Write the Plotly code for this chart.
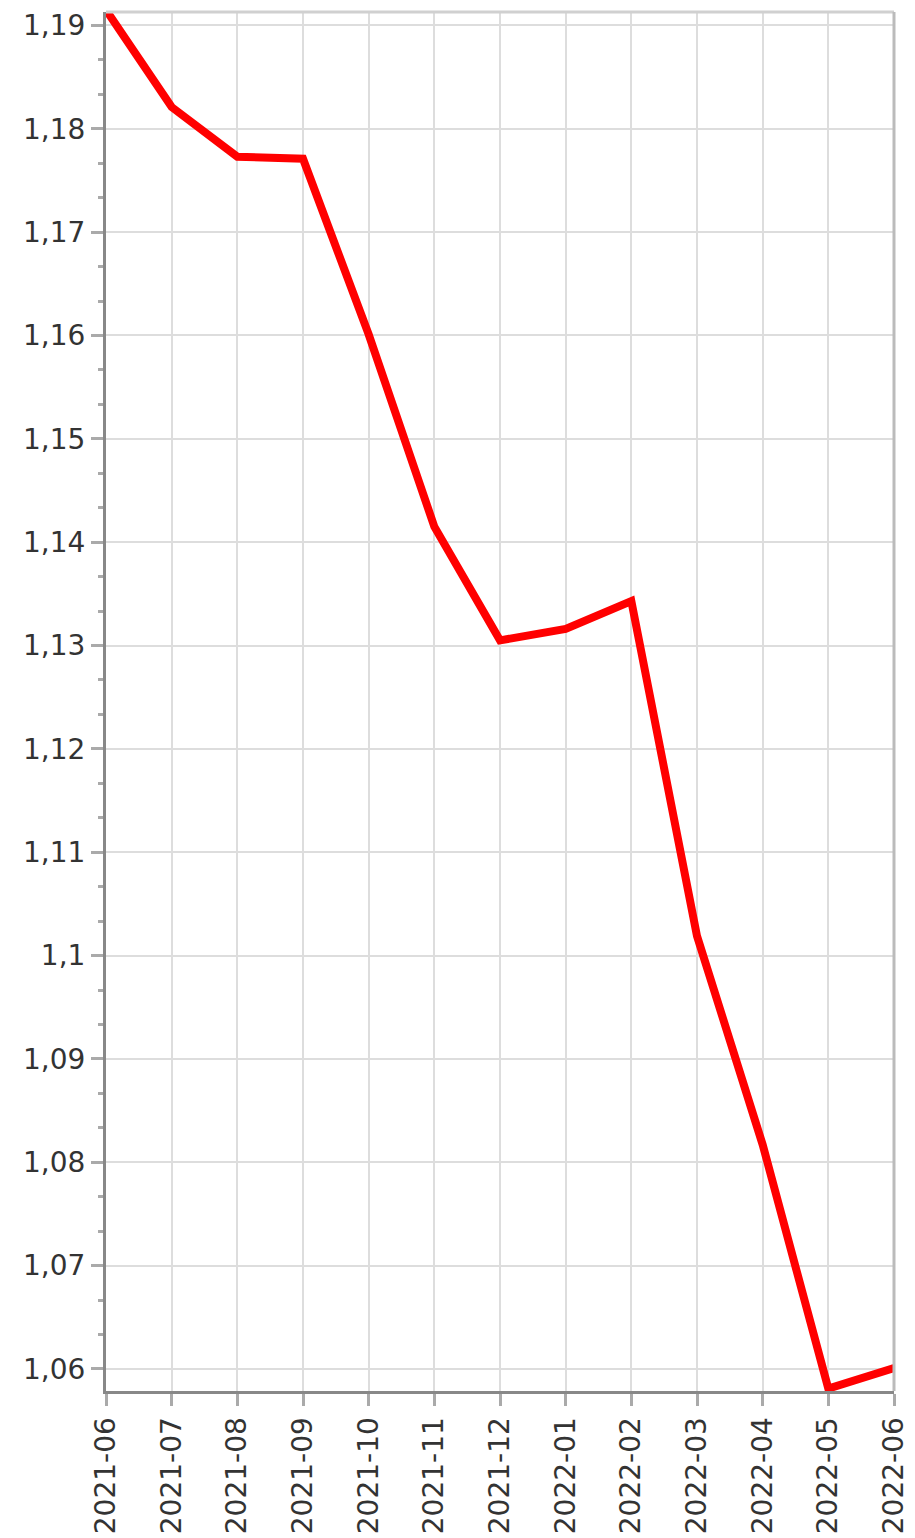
import plotly.graph_objects as go

months = ["2021-06", "2021-07", "2021-08", "2021-09", "2021-10", "2021-11", "2021-12",
          "2022-01", "2022-02", "2022-03", "2022-04", "2022-05", "2022-06"]
values = [1.1915, 1.1821, 1.1773, 1.1771, 1.1601, 1.1415, 1.1305,
          1.1316, 1.1343, 1.1019, 1.0817, 1.0581, 1.0601]
ytick_vals = [1.06, 1.07, 1.08, 1.09, 1.10, 1.11, 1.12, 1.13, 1.14, 1.15, 1.16, 1.17, 1.18, 1.19]
ytick_text = [("%g" % v).replace(".", ",") for v in ytick_vals]

FONT = "DejaVu Sans, Verdana, sans-serif"

fig = go.Figure()
fig.add_trace(go.Scatter(
    x=months, y=values, mode="lines",
    line=dict(color="#ff0000", width=8),
    hoverinfo="x+y",
))

fig.update_layout(
    width=915, height=1538,
    margin=dict(l=106, r=21, t=12, b=147, autoexpand=False),
    paper_bgcolor="white", plot_bgcolor="white",
    showlegend=False,
    font=dict(family=FONT, size=28, color="#333333"),
    xaxis=dict(
        type="category", range=[0, 12], automargin=False,
        tickangle=-90,
        showgrid=True, gridcolor="#dddddd", gridwidth=2,
        showline=True, linecolor="#888888", linewidth=3,
        ticks="outside", ticklen=12, tickwidth=3, tickcolor="#aaaaaa",
        tickfont=dict(family=FONT, size=28, color="#333333"),
        zeroline=False,
    ),
    yaxis=dict(
        range=[1.05787, 1.1913], automargin=False,
        tickmode="array", tickvals=ytick_vals, ticktext=ytick_text,
        showgrid=True, gridcolor="#dddddd", gridwidth=2,
        showline=True, linecolor="#888888", linewidth=3,
        ticks="outside", ticklen=12, tickwidth=3, tickcolor="#aaaaaa",
        tickfont=dict(family=FONT, size=28, color="#333333"),
        zeroline=False,
        minor=dict(dtick=0.01 / 3, tick0=1.06, ticks="outside", ticklen=5,
                   tickwidth=3, tickcolor="#aaaaaa", showgrid=False),
    ),
    shapes=[
        dict(type="line", xref="paper", yref="paper", x0=0, x1=1, y0=1, y1=1,
             line=dict(color="#d0d0d0", width=3)),
        dict(type="line", xref="paper", yref="paper", x0=1, x1=1, y0=0, y1=1,
             line=dict(color="#bbbbbb", width=3)),
    ],
)

fig.write_html(
    "out.html",
    config={"displayModeBar": False},
    post_script="document.body.style.margin='0';document.body.style.overflow='hidden';",
)
